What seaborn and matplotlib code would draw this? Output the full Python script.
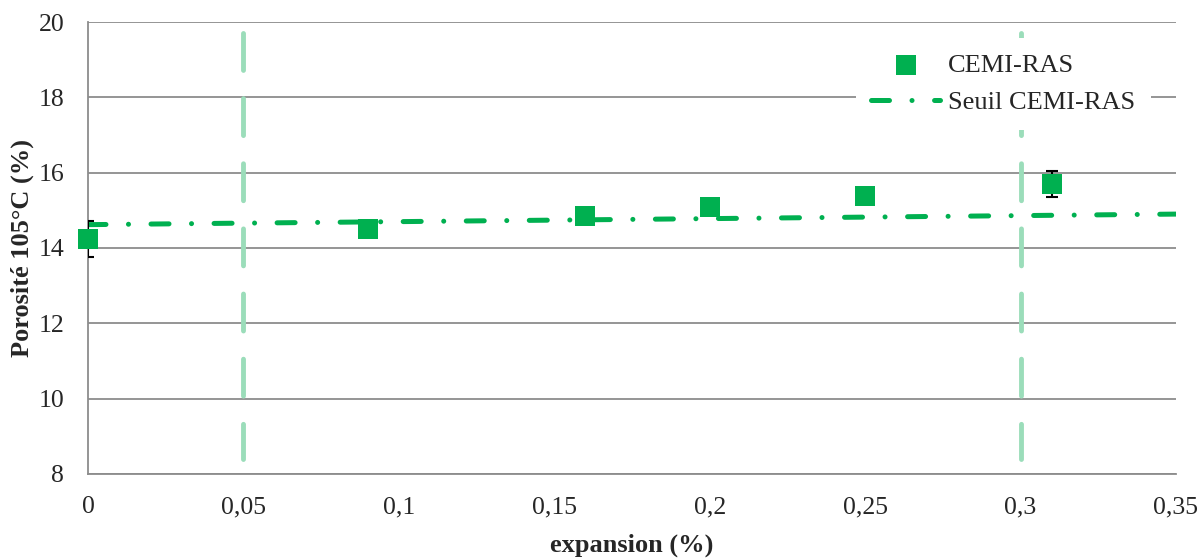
import numpy as np
import pandas as pd
import seaborn as sns
import matplotlib.pyplot as plt

# données
expansion = [0.0, 0.09, 0.16, 0.20, 0.25, 0.31]
porosite = [14.25, 14.5, 14.85, 15.1, 15.38, 15.7]
erreur = [0.48, 0.08, 0.08, 0.08, 0.08, 0.35]

seuil_x = [0.0, 0.35]
seuil_y = [14.62, 14.9]

limites_x = [0.05, 0.30]
xticks = [0, 0.05, 0.1, 0.15, 0.2, 0.25, 0.3, 0.35]
xtick_labels = ['0', '0,05', '0,1', '0,15', '0,2', '0,25', '0,3', '0,35']
yticks = [8, 10, 12, 14, 16, 18, 20]

vert = '#00B050'
vert_clair = '#9BDDBA'

sns.set_theme(style='white')
plt.rcParams['font.family'] = ['Liberation Serif', 'DejaVu Serif']

fig = plt.figure(figsize=(12, 5.6), dpi=100)
ax = fig.add_axes([0.0733, 0.1536, 0.9067, 0.8071])

df_pts = pd.DataFrame({'expansion': expansion, 'porosite': porosite})
df_seuil = pd.DataFrame({'expansion': seuil_x, 'porosite': seuil_y})

# lignes verticales (limites), tracées du haut vers le bas
ax.vlines(limites_x, 19.7, 8.4, colors=vert_clair, linewidth=3.5,
          linestyles=(0, (7.6, 5.8)), capstyle='round', zorder=2)

# seuil
sns.lineplot(data=df_seuil, x='expansion', y='porosite', ax=ax, color=vert,
             linewidth=3.6, label='Seuil CEMI-RAS', zorder=3)
ax.lines[-1].set_dashes((3.6, 4.5, 0.01, 4.5))
ax.lines[-1].set_dash_capstyle('round')

# barres d'erreur
ax.errorbar(expansion, porosite, yerr=erreur, fmt='none', ecolor='black',
            elinewidth=1.5, capsize=4, capthick=1.5, zorder=4)

# points
sns.scatterplot(data=df_pts, x='expansion', y='porosite', ax=ax, marker='s',
                s=210, color=vert, edgecolor='none', label='CEMI-RAS',
                zorder=5, clip_on=False)

ax.set_xlim(0, 0.35)
ax.set_ylim(8, 20)
ax.set_xticks(xticks)
ax.set_xticklabels(xtick_labels)
ax.set_yticks(yticks)
ax.tick_params(axis='both', labelsize=18.5, length=0)
ax.tick_params(axis='x', pad=16)
ax.tick_params(axis='y', pad=17)
ax.yaxis.grid(True, color='#8C8C8C', linewidth=1.3)
ax.set_axisbelow(True)
for s in ['top', 'right']:
    ax.spines[s].set_visible(False)
for s in ['left', 'bottom']:
    ax.spines[s].set_color('#8C8C8C')
    ax.spines[s].set_linewidth(1.3)

ax.set_xlabel('expansion (%)', fontsize=19, fontweight='bold', labelpad=11)
ax.set_ylabel('Porosité 105°C (%)', fontsize=19, fontweight='bold', labelpad=3)

handles, labels = ax.get_legend_handles_labels()
order = [labels.index('CEMI-RAS'), labels.index('Seuil CEMI-RAS')]
leg = ax.legend([handles[i] for i in order], [labels[i] for i in order],
                loc='upper right', bbox_to_anchor=(0.977, 0.965), fontsize=19,
                frameon=True, facecolor='white', edgecolor='none', framealpha=1,
                handlelength=2.6, handletextpad=0.3, borderpad=0.6,
                borderaxespad=0, labelspacing=0.5, fancybox=False)
leg.set_zorder(10)

fig.savefig('out.png', dpi=100)
